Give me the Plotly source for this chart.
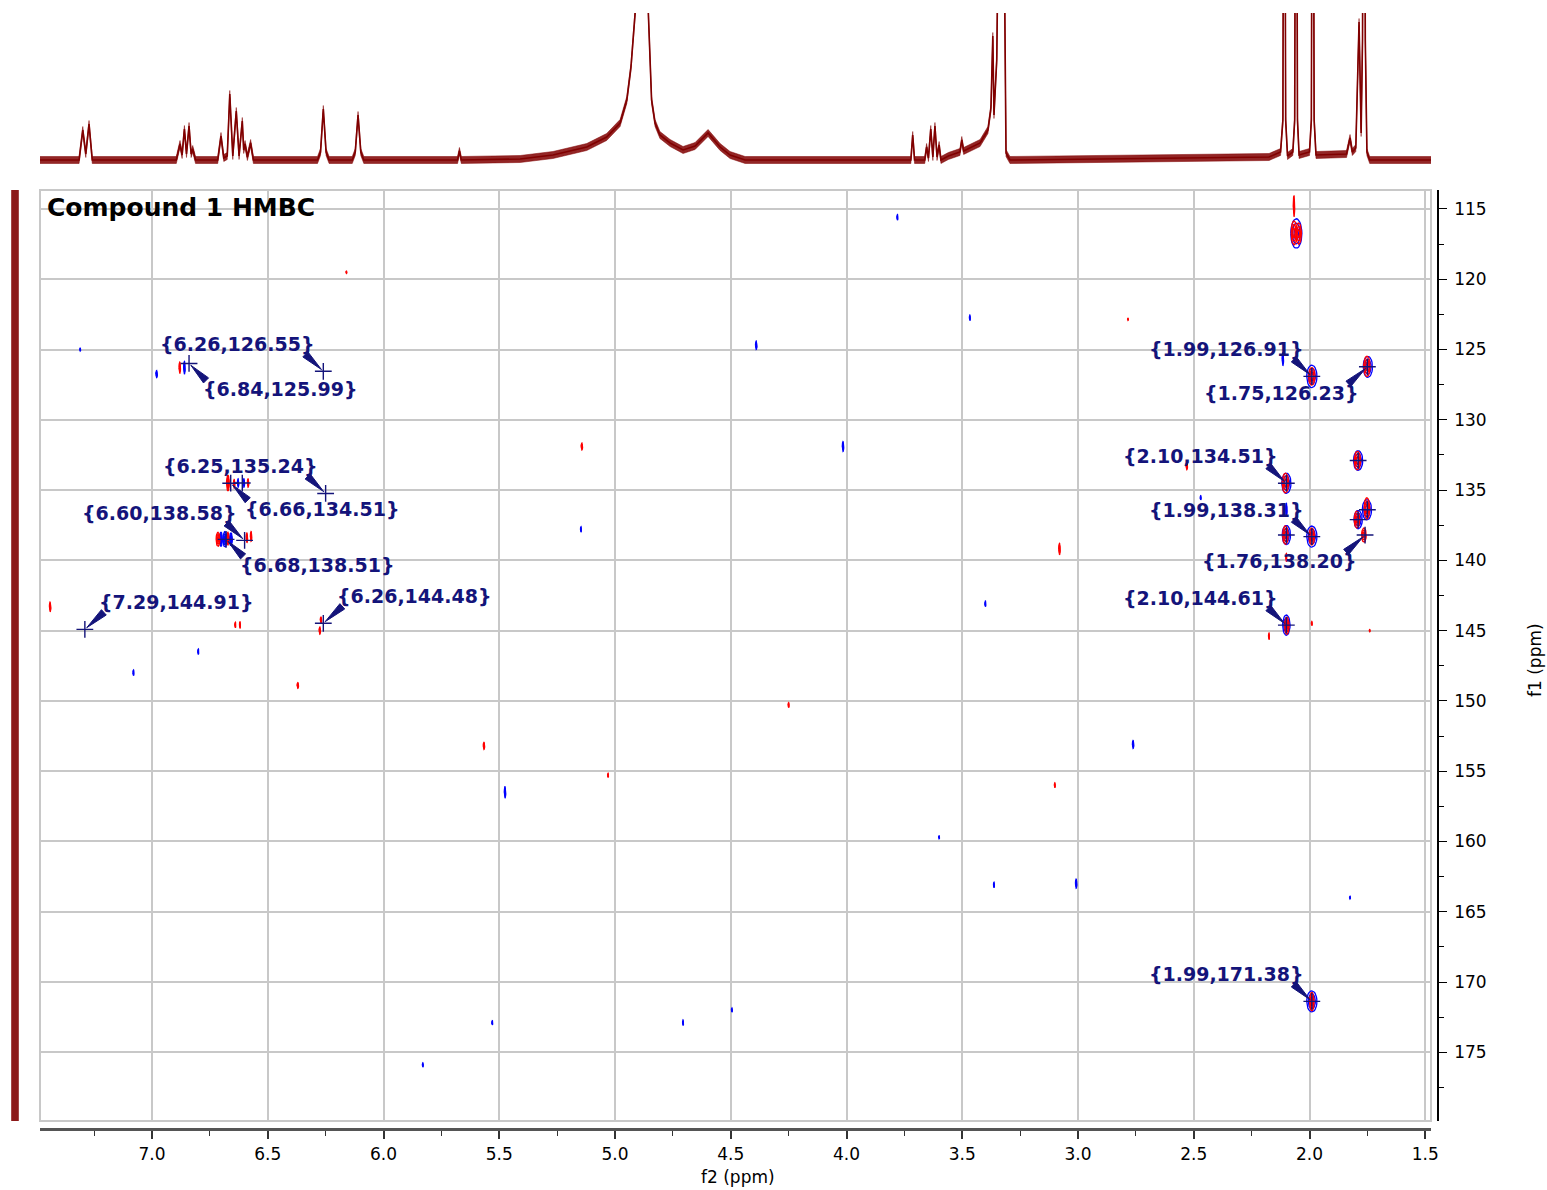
import numpy as np
import plotly.graph_objects as go

# ---------------- data ----------------
# 1H projection (top): vertices (ppm, height above baseline)
top_ppm = [7.484, 7.315, 7.299, 7.286, 7.272, 7.258,
           6.895, 6.879, 6.870, 6.860, 6.851, 6.840, 6.831, 6.824, 6.812,
           6.716, 6.702, 6.690, 6.675, 6.664, 6.651, 6.636, 6.624, 6.610, 6.604, 6.598, 6.588, 6.574, 6.562,
           6.285, 6.272, 6.260, 6.248, 6.235,
           6.135, 6.122, 6.110, 6.098, 6.085,
           5.680, 5.672, 5.664,
           5.410, 5.268, 5.122, 5.036, 4.978, 4.949, 4.931, 4.913, 4.886, 4.856, 4.842, 4.827, 4.806,
           4.762, 4.706, 4.654, 4.598, 4.546, 4.503, 4.438,
           3.722, 3.714, 3.706, 3.662, 3.654, 3.646, 3.636, 3.627, 3.618, 3.609, 3.600, 3.592,
           3.560, 3.510, 3.502, 3.494, 3.423, 3.389, 3.376, 3.368, 3.363, 3.351, 3.346, 3.333, 3.318,
           3.315, 3.311, 3.294,
           2.175, 2.125, 2.115, 2.109, 2.103, 2.095, 2.072, 2.064, 2.058, 2.052, 2.045, 2.000, 1.992,
           1.986, 1.980, 1.972,
           1.840, 1.825, 1.815, 1.800, 1.794, 1.786, 1.777, 1.771, 1.765, 1.759, 1.752, 1.740, 1.475]
top_int = [0, 0, 30, 6, 36, 0,
           0, 16, 5, 31, 6, 34, 6, 11, 0,
           0, 24, 2, 4, 66, 4, 49, 4, 39, 10, 16, 3, 17, 0,
           0, 8, 51, 8, 0,
           0, 8, 45, 8, 0,
           0, 9, 0,
           1, 5, 13, 23, 37, 60, 93, 147, 600, 147, 60, 37, 25,
           17, 10, 14, 27, 13, 5, 0,
           0, 25, 0, 0, 13, 2, 31, 3, 34, 3, 15, 0,
           4, 8, 20, 9, 17, 30, 52, 124, 45, 100, 200, 600, 200,
           100, 7, 0,
           3, 8, 40, 600, 40, 4, 8, 40, 600, 40, 5, 8, 40,
           600, 40, 5,
           6, 22, 8, 12, 60, 138, 27, 120, 600, 120, 8, 0, 0]
top_noise = 3.5

# 13C projection (left): flat noisy trace
c13_ppm = [113.65, 179.89]
c13_int = [0, 0]
c13_noise = 3.5

# HMBC cross peaks (positive / negative contours): centre (ppm) and half widths (ppm)
blue_x = [2.057, 1.990, 1.748, 1.790, 2.100, 1.752, 1.790, 2.100, 1.990, 2.100, 1.990,
          6.702, 6.685, 6.659, 6.628, 6.603,
          6.860, 6.980, 7.310, 3.780, 3.467, 4.390, 4.015, 5.147, 3.400, 6.800, 7.080, 2.762,
          5.475, 3.600, 3.363, 3.008, 1.825, 5.530, 4.706, 4.495, 5.830, 2.115, 2.100, 2.470]
blue_y = [116.75, 126.91, 126.23, 132.90, 134.51, 136.40, 137.10, 138.20, 138.31, 144.61, 171.38,
          138.50, 138.50, 138.50, 134.50, 134.50,
          126.30, 126.75, 125.00, 115.60, 122.75, 124.70, 131.90, 137.80, 143.10, 146.50, 148.00, 153.10,
          156.50, 159.70, 163.10, 163.00, 164.00, 172.90, 172.90, 172.00, 175.90, 125.70, 136.40, 135.55]
blue_rx = [0.024, 0.022, 0.020, 0.020, 0.020, 0.020, 0.018, 0.018, 0.022, 0.016, 0.022,
           0.006, 0.008, 0.006, 0.003, 0.003,
           0.003, 0.003, 0.002, 0.002, 0.002, 0.003, 0.003, 0.002, 0.002, 0.002, 0.002, 0.003,
           0.003, 0.002, 0.002, 0.003, 0.002, 0.002, 0.002, 0.002, 0.002, 0.003, 0.003, 0.002]
blue_ry = [1.05, 0.80, 0.75, 0.70, 0.72, 0.72, 0.65, 0.68, 0.75, 0.72, 0.75,
           0.50, 0.55, 0.45, 0.30, 0.30,
           0.45, 0.25, 0.10, 0.20, 0.20, 0.30, 0.35, 0.20, 0.20, 0.20, 0.20, 0.28,
           0.42, 0.10, 0.20, 0.32, 0.10, 0.15, 0.20, 0.15, 0.15, 0.45, 0.45, 0.15]

red_x = [2.067, 2.047, 2.067, 1.990, 1.752, 1.793, 2.104, 1.752, 1.795, 1.765, 2.104, 1.990, 2.098, 1.990,
         6.672, 6.645, 6.585, 6.715, 6.672, 6.590, 6.572,
         6.880, 6.160, 2.784, 5.143, 2.530, 3.080, 2.100, 7.440, 6.640, 6.620, 6.270, 6.275,
         1.990, 2.175, 1.740, 6.370, 4.250, 5.566, 5.030, 3.100]
red_y = [116.70, 116.75, 114.80, 126.91, 126.20, 132.90, 134.50, 136.30, 137.10, 138.20, 138.20, 138.30,
         144.65, 171.40,
         134.50, 134.55, 134.50, 138.50, 138.45, 138.40, 138.30,
         126.30, 119.50, 122.85, 131.90, 133.30, 139.20, 139.80, 143.30, 144.60, 144.60, 144.25, 145.00,
         144.50, 145.40, 145.00, 148.90, 150.30, 153.20, 155.30, 156.00]
red_rx = [0.012, 0.012, 0.003, 0.014, 0.014, 0.014, 0.014, 0.012, 0.012, 0.010, 0.012, 0.012, 0.010, 0.010,
          0.006, 0.003, 0.003, 0.008, 0.004, 0.003, 0.003,
          0.003, 0.002, 0.002, 0.003, 0.003, 0.003, 0.002, 0.003, 0.002, 0.002, 0.003, 0.003,
          0.002, 0.002, 0.002, 0.003, 0.002, 0.003, 0.002, 0.002]
red_ry = [0.85, 0.75, 0.75, 0.62, 0.72, 0.65, 0.70, 0.75, 0.60, 0.50, 0.65, 0.60, 0.60, 0.65,
          0.55, 0.30, 0.30, 0.50, 0.45, 0.35, 0.35,
          0.40, 0.08, 0.08, 0.25, 0.25, 0.40, 0.30, 0.35, 0.20, 0.25, 0.22, 0.25,
          0.15, 0.25, 0.08, 0.20, 0.18, 0.25, 0.15, 0.18]

# picked correlations (labelled)
label_x = [6.26, 6.84, 6.25, 6.66, 6.60, 6.68, 7.29, 6.26, 1.99, 1.75, 2.10, 1.99, 1.76, 2.10, 1.99]
label_y = [126.55, 125.99, 135.24, 134.51, 138.58, 138.51, 144.91, 144.48,
           126.91, 126.23, 134.51, 138.31, 138.20, 144.61, 171.38]
# other picked peaks (cross only)
cross_x = [1.79, 1.75, 1.79, 2.10, 6.61]
cross_y = [132.90, 136.40, 137.10, 138.20, 134.50]

x_ticks = [7.0, 6.5, 6.0, 5.5, 5.0, 4.5, 4.0, 3.5, 3.0, 2.5, 2.0, 1.5]
y_ticks = [115, 120, 125, 130, 135, 140, 145, 150, 155, 160, 165, 170, 175]

# ---------------- layout constants ----------------
W, H = 1547, 1190
L, R, T, B = 40, 1431, 190, 1121
X_RANGE = [7.4838, 1.4752]
Y_RANGE = [179.89, 113.65]
KX = (R - L) / (X_RANGE[0] - X_RANGE[1])
KY = (B - T) / (Y_RANGE[0] - Y_RANGE[1])

NAVY = "#14147a"
DARKRED = "#800000"
GRID = "#c8c8c8"

label_side = ["UL", "LR", "UL", "LR", "UL", "LR", "UR", "UR", "UL", "LL", "UL", "UL", "LL", "UL", "UL"]
TEXT_OFF = {"UL": (-86, -27), "LL": (-86, 26), "LR": (91, 26), "UR": (91, -27.5)}
WEDGE_START = {"UL": (-18, -17), "LL": (-19, 17), "LR": (17, 17), "UR": (19, -17)}
LEVELS = [1.0, 0.7, 0.4]


def fx(p):
    return p / W


def fy(p):
    return 1 - p / H


def contour_paths(xs, ys, rxs, rys):
    t = np.linspace(0, 2 * np.pi, 29)
    ox, oy = [], []
    for cx, cy, rx, ry in zip(xs, ys, rxs, rys):
        for s in LEVELS:
            ox += list(cx + s * rx * np.cos(t)) + [None]
            oy += list(cy + s * ry * np.sin(t)) + [None]
    return ox, oy


def to_data(px0, py0, ox, oy):
    return px0 - ox / KX, py0 + oy / KY


fig = go.Figure()

# top 1H projection
top_arr = np.array(top_int, dtype=float)
fig.add_trace(go.Scatter(x=top_ppm, y=top_arr - top_noise, mode="lines",
                         line=dict(color=DARKRED, width=0.5), xaxis="x2", yaxis="y2",
                         hoverinfo="skip", showlegend=False))
fig.add_trace(go.Scatter(x=top_ppm, y=top_arr + top_noise, mode="lines", fill="tonexty",
                         fillcolor="rgba(128,0,0,0.85)",
                         line=dict(color=DARKRED, width=0.5), xaxis="x2", yaxis="y2",
                         hoverinfo="skip", showlegend=False))
fig.add_trace(go.Scatter(x=top_ppm, y=top_int, mode="lines",
                         line=dict(color=DARKRED, width=1.6), xaxis="x2", yaxis="y2",
                         hoverinfo="skip", showlegend=False))

# left 13C projection
c13_arr = np.array(c13_int, dtype=float)
fig.add_trace(go.Scatter(x=c13_arr - c13_noise, y=c13_ppm, mode="lines",
                         line=dict(color=DARKRED, width=0.5), xaxis="x3", yaxis="y3",
                         hoverinfo="skip", showlegend=False))
fig.add_trace(go.Scatter(x=c13_arr + c13_noise, y=c13_ppm, mode="lines", fill="tonextx",
                         fillcolor="rgba(128,0,0,0.9)",
                         line=dict(color=DARKRED, width=0.5), xaxis="x3", yaxis="y3",
                         hoverinfo="skip", showlegend=False))

# 2D contours
bx, by = contour_paths(blue_x, blue_y, blue_rx, blue_ry)
fig.add_trace(go.Scatter(x=bx, y=by, mode="lines", line=dict(color="#0000ff", width=1.3),
                         hoverinfo="skip", showlegend=False))
rx_, ry_ = contour_paths(red_x, red_y, red_rx, red_ry)
fig.add_trace(go.Scatter(x=rx_, y=ry_, mode="lines", line=dict(color="#ff0000", width=1.3),
                         hoverinfo="skip", showlegend=False))

# wedge pointers
wx, wy = [], []
for px0, py0, side in zip(label_x, label_y, label_side):
    sx, sy = WEDGE_START[side]
    ln = np.hypot(sx, sy)
    ux, uy = sx / ln, sy / ln
    nx, ny = -uy, ux
    pts = [(ux * 2.5, uy * 2.5), (sx + nx * 3.6, sy + ny * 3.6), (sx - nx * 3.6, sy - ny * 3.6),
           (ux * 2.5, uy * 2.5)]
    for ox, oy in pts:
        dx, dy = to_data(px0, py0, ox, oy)
        wx.append(dx)
        wy.append(dy)
    wx.append(None)
    wy.append(None)
fig.add_trace(go.Scatter(x=wx, y=wy, mode="lines", fill="toself", fillcolor=NAVY,
                         line=dict(color=NAVY, width=1), hoverinfo="skip", showlegend=False))

# crosses
fig.add_trace(go.Scatter(x=label_x + cross_x, y=label_y + cross_y, mode="markers",
                         marker=dict(symbol="cross-thin", size=12, line=dict(color=NAVY, width=1.4)),
                         hoverinfo="skip", showlegend=False))

annotations = []
for px0, py0, side in zip(label_x, label_y, label_side):
    dx, dy = TEXT_OFF[side]
    annotations.append(dict(x=px0, y=py0, xref="x", yref="y", showarrow=False,
                            text="{%.2f,%.2f}" % (px0, py0), xshift=dx, yshift=-dy,
                            xanchor="center", yanchor="middle",
                            font=dict(family="DejaVu Sans", size=19, color=NAVY, weight="bold")))
annotations.append(dict(x=fx(45), y=fy(207), xref="paper", yref="paper", showarrow=False,
                        text="Compound 1 HMBC", xanchor="left", yanchor="middle",
                        font=dict(family="DejaVu Sans", size=25, color="black", weight="bold")))
annotations.append(dict(x=fx(738), y=fy(1177), xref="paper", yref="paper", showarrow=False,
                        text="f2 (ppm)", xanchor="center", yanchor="middle",
                        font=dict(family="DejaVu Sans", size=17, color="black")))
annotations.append(dict(x=fx(1535), y=fy(660), xref="paper", yref="paper", showarrow=False,
                        text="f1 (ppm)", xanchor="center", yanchor="middle", textangle=-90,
                        font=dict(family="DejaVu Sans", size=17, color="black")))

fig.update_layout(
    width=W, height=H, autosize=False, margin=dict(l=0, r=0, t=0, b=0, pad=0),
    paper_bgcolor="white", plot_bgcolor="white",
    font=dict(family="DejaVu Sans", size=17, color="black"),
    xaxis=dict(domain=[fx(L), fx(R)], range=X_RANGE, anchor="free", position=fy(1129),
               automargin=False,
               tickvals=x_ticks, ticktext=["%.1f" % v for v in x_ticks],
               showgrid=True, gridcolor=GRID, gridwidth=1.5, zeroline=False,
               showline=True, linecolor="#555555", linewidth=3,
               ticks="outside", ticklen=8, tickwidth=1.5, tickcolor="#333333",
               ticklabelstandoff=1,
               minor=dict(dtick=0.25, tick0=0, ticks="outside", ticklen=5, tickwidth=1.2,
                          tickcolor="#333333", showgrid=False)),
    yaxis=dict(domain=[fy(B), fy(T)], range=Y_RANGE, anchor="free", position=fx(1438), side="right",
               automargin=False,
               tickvals=y_ticks, showgrid=True, gridcolor=GRID, gridwidth=1.5, zeroline=False,
               showline=True, linecolor="black", linewidth=1.5,
               ticks="outside", ticklen=8, tickwidth=1.2, tickcolor="black",
               ticklabelstandoff=4,
               minor=dict(dtick=2.5, tick0=0, ticks="outside", ticklen=5, tickwidth=1.2,
                          tickcolor="black", showgrid=False)),
    xaxis2=dict(domain=[fx(L), fx(R)], range=X_RANGE, anchor="y2", visible=False, automargin=False),
    yaxis2=dict(domain=[fy(175), fy(13)], range=[-15, 147], anchor="x2", visible=False, automargin=False),
    xaxis3=dict(domain=[fx(0), fx(30)], range=[-15, 15], anchor="y3", visible=False, automargin=False),
    yaxis3=dict(domain=[fy(B), fy(T)], range=Y_RANGE, anchor="x3", visible=False, automargin=False),
    annotations=annotations,
    shapes=[dict(type="rect", xref="x domain", yref="y domain", x0=0, x1=1, y0=0, y1=1,
                 line=dict(color=GRID, width=2), layer="below")],
)

fig.write_html("out.html", config={"displayModeBar": False, "responsive": False},
               post_script="document.body.style.margin='0px';document.body.style.overflow='hidden';")
